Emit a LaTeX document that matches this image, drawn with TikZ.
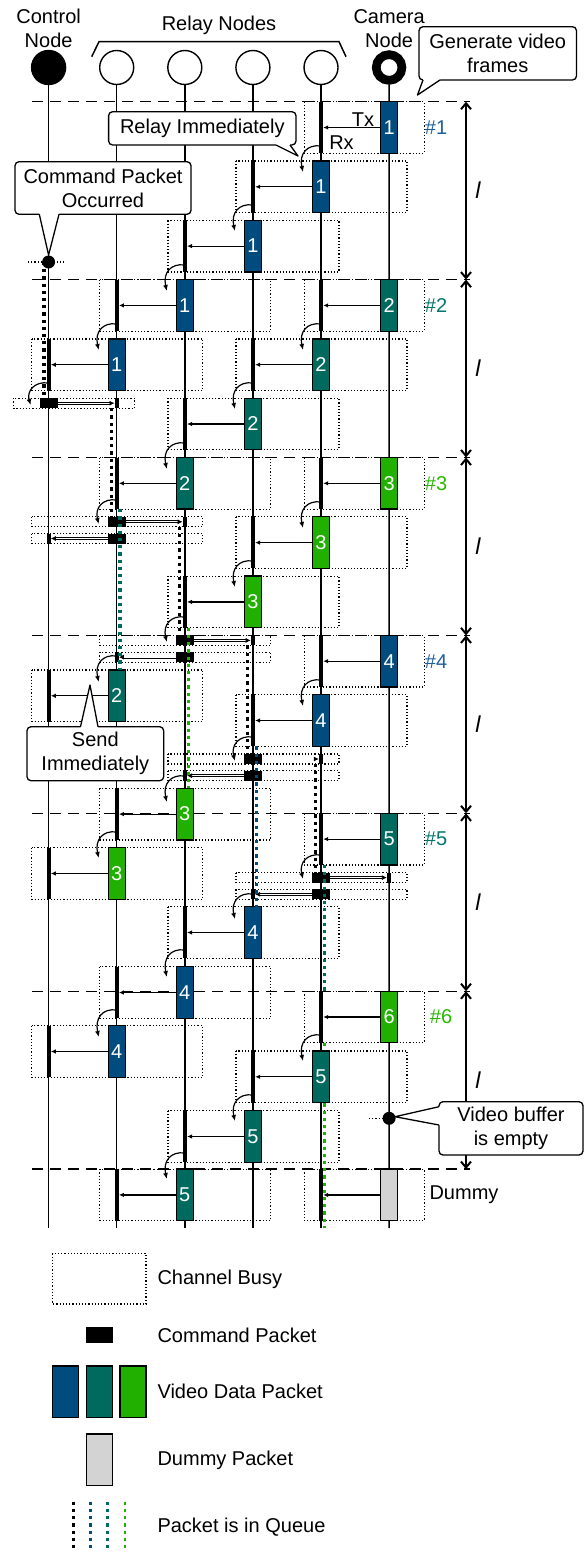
\documentclass[tikz,border=0pt]{standalone}
\usepackage{fontspec}
\setmainfont{Liberation Sans}
\usetikzlibrary{arrows.meta}
\definecolor{pblue}{RGB}{0,76,127}
\definecolor{pteal}{RGB}{0,106,95}
\definecolor{pgreen}{RGB}{33,176,0}
\definecolor{pgray}{RGB}{211,211,211}
\definecolor{lblue}{RGB}{30,96,156}
\definecolor{lteal}{RGB}{0,120,108}
\definecolor{lgreen}{RGB}{40,184,0}
\newcounter{tx}
\newcommand\data[5]{%
 \stepcounter{tx}%
 \pgfmathsetmacro\xs{48.6+68.1*#1}%
 \pgfmathsetmacro\xr{48.6+68.1*#2}%
 \pgfmathsetmacro\bl{(#1==0)?(\xs-35):(\xs-85)}%
 \pgfmathsetmacro\br{(#1==5)?(\xs+35):(\xs+86)}%
 \pgfmathsetmacro\ym{#3+25.8}%
 \draw[busy] (\bl,#3) rectangle (\br,#3+51.6);
 \node[pkt, fill=#4] (p\thetx) at (\xs,\ym) {#5};
 \node[rxbar, minimum height=51.6pt] (b\thetx) at (\xr,\ym) {};
 \draw[darrow] (p\thetx.west) -- (b\thetx.east);
}
\newcommand\cmd[5]{%
 \stepcounter{tx}%
 \pgfmathsetmacro\xs{48.6+68.1*#1}%
 \pgfmathsetmacro\xr{48.6+68.1*#2}%
 \pgfmathsetmacro\bl{(#1==0)?(\xs-35):(\xs-85)}%
 \pgfmathsetmacro\br{(#1==5)?(\xs+35):(\xs+86)}%
 \pgfmathsetmacro\ym{#3+5}%
 \draw[busy] (\bl,#3) rectangle (\br,#3+10);
 \node[cmdpkt] (c\thetx) at (\xs,\ym) {};
 \node[rxbar, minimum height=10pt] (r\thetx) at (\xr,\ym) {};
 \draw[cmdarrow] (c\thetx.#4) -- (r\thetx.#5);
}
\newcommand\relay[3]{%
 \pgfmathsetmacro\xx{48.6+68.1*#1}%
 \draw[relayarr] (\xx,#2) .. controls (\xx-14,#2-2) and (\xx-22,#2+8) .. (\xx-18,#3);
}
\newcommand\queue[4]{%
 \pgfmathsetmacro\xx{48.6+68.1*#1+#2}%
 \draw[queueline, #3] (\xx,#4);
}
\begin{document}
\begin{tikzpicture}[x=1pt,y=-1pt,
 every node/.style={font=\fontsize{20}{24}\selectfont},
 lifeline/.style={line width=1.4pt},
 busy/.style={dotted, line width=1.2pt},
 pkt/.style={draw=black, line width=1.3pt, minimum width=17pt, minimum height=51.6pt, inner sep=0pt, text=white},
 cmdpkt/.style={fill=black, minimum width=18pt, minimum height=10pt, inner sep=0pt},
 rxbar/.style={fill=black, minimum width=4pt, inner sep=0pt},
 darrow/.style={line width=1.2pt, -{Latex[length=5pt,width=4.5pt]}},
 cmdarrow/.style={double=white, double distance=1.3pt, line width=0.75pt, -{Latex[length=5pt,width=5pt]}},
 relayarr/.style={line width=1.2pt, -{Latex[length=6pt,width=5pt]}},
 queueline/.style={line width=3.2pt, dash pattern=on 3.2pt off 4pt},
 cbox/.style={draw, fill=white, rounded corners=4pt, line width=1.3pt, inner sep=0pt, align=center},
 cline/.style={line width=1.3pt, line join=round},
 period/.style={dash pattern=on 11pt off 7pt, line width=1.3pt},
 iv/.style={line width=2pt, {Straight Barb[length=6pt,width=10pt]}-{Straight Barb[length=6pt,width=10pt]}},
]
\useasboundingbox (0,0) rectangle (584,1552);

% header
\node[align=center] (tc) at (48.6,28) {Control\\Node};
\node (tr) at (219,25) {Relay Nodes};
\node[align=center] (tcam) at (389.1,28.3) {Camera\\Node};
\draw[line width=1.5pt] (91.7,56.7) -- (99,41.7) -- (339,41.7) -- (346,56.7);

% nodes
\node[circle, draw, fill=black, line width=1.4pt, minimum size=34pt, inner sep=0pt] (n0) at (48.6,67.5) {};
\foreach \i in {1,...,4}
  \node[circle, draw, line width=1.4pt, minimum size=34pt, inner sep=0pt] (n\i) at ({48.6+68.1*\i},67.5) {};
\node[circle, draw, line width=8.7pt, minimum size=25.7pt, inner sep=0pt] (n5) at (389.1,67.5) {};
\foreach \i in {0,...,5} {
  \coordinate (e\i) at ({48.6+68.1*\i},1228);
  \draw[lifeline] (n\i) -- (e\i);
}

% period lines and interval arrows
\foreach \k in {0,...,6}
  \draw[period] (32,{101.7+177.9*\k}) -- (470,{101.7+177.9*\k});
\foreach \k in {0,...,5} {
  \draw[iv] (466,{101.7+177.9*\k}) -- (466,{101.7+177.9*(\k+1)});
  \node[font=\fontsize{23}{24}\selectfont\itshape] (l\k) at (478,{190.6+177.9*\k}) {l};
}

% transmissions
\data{5}{4}{101.7}{pblue}{1}
\data{4}{3}{161.0}{pblue}{1}
\data{3}{2}{220.3}{pblue}{1}
\data{2}{1}{279.6}{pblue}{1}
\data{5}{4}{279.6}{pteal}{2}
\data{1}{0}{338.9}{pblue}{1}
\data{4}{3}{338.9}{pteal}{2}
\data{3}{2}{398.2}{pteal}{2}
\data{2}{1}{457.5}{pteal}{2}
\data{5}{4}{457.5}{pgreen}{3}
\data{4}{3}{516.8}{pgreen}{3}
\data{3}{2}{576.1}{pgreen}{3}
\data{5}{4}{635.4}{pblue}{4}
\data{1}{0}{670}{pteal}{2}
\data{4}{3}{694.7}{pblue}{4}
\data{2}{1}{788.3}{pgreen}{3}
\data{5}{4}{813.3}{pteal}{5}
\data{1}{0}{847.7}{pgreen}{3}
\data{3}{2}{906.7}{pblue}{4}
\data{2}{1}{966.7}{pblue}{4}
\data{5}{4}{991.2}{pgreen}{6}
\data{1}{0}{1025.7}{pblue}{4}
\data{4}{3}{1051}{pteal}{5}
\data{3}{2}{1110.7}{pteal}{5}
\data{2}{1}{1169.1}{pteal}{5}
\data{5}{4}{1169.1}{pgray}{}

% command rows
\cmd{0}{1}{398.2}{east}{west}
\cmd{1}{2}{516.8}{east}{west}
\cmd{1}{0}{533.5}{west}{east}
\cmd{2}{3}{635.4}{east}{west}
\cmd{2}{1}{652.1}{west}{east}
\cmd{3}{4}{754}{east}{west}
\cmd{3}{2}{770.7}{west}{east}
\cmd{4}{5}{872.6}{east}{west}
\cmd{4}{3}{889.3}{west}{east}

% queues
\queue{0}{-4.6}{black}{262) -- (\xx,398.2}
\queue{1}{-5.3}{black}{408.2) -- (\xx,516.8}
\queue{2}{-5.3}{black}{526.8) -- (\xx,635.4}
\queue{3}{-5.3}{black}{645.4) -- (\xx,754}
\queue{4}{-5.3}{black}{764) -- (\xx,872.6}
\queue{1}{3.3}{pteal}{509.1) -- (\xx,670}
\queue{2}{3.8}{pgreen}{627.7) -- (\xx,788.3}
\queue{3}{3.3}{pblue}{746.3) -- (\xx,906.7}
\queue{4}{3.5}{pteal}{864.9) -- (\xx,991.2}
\queue{4}{3.5}{pgreen}{1042.8) -- (\xx,1050}
\queue{4}{3.5}{pgreen}{1103.4) -- (\xx,1228}

% relay arrows
\relay{4}{146}{172}
\relay{3}{205}{231}
\relay{2}{265}{291}
\relay{1}{324}{350}
\relay{4}{324}{350}
\relay{3}{383}{409}
\relay{0}{383}{405}
\relay{2}{443}{469}
\relay{4}{502}{528}
\relay{1}{500}{524}
\relay{3}{561}{587}
\relay{2}{617}{642}
\relay{4}{680}{706}
\relay{1}{656}{682}
\relay{3}{737}{761}
\relay{2}{776}{802}
\relay{1}{832}{858}
\relay{4}{855}{879}
\relay{3}{894}{919}
\relay{2}{950}{977}
\relay{1}{1010}{1037}
\relay{4}{1035}{1061}
\relay{3}{1095}{1121}
\relay{2}{1153}{1179}

% labels
\node (tx) at (363,120) {Tx};
\node (rx) at (341.5,143) {Rx};
\node[text=lblue] (h1) at (436,127.5) {\#1};
\node[text=lteal] (h2) at (436,305.4) {\#2};
\node[text=lgreen] (h3) at (436,483.3) {\#3};
\node[text=lblue] (h4) at (436,661.2) {\#4};
\node[text=lteal] (h5) at (436,839.1) {\#5};
\node[text=lgreen] (h6) at (441,1017) {\#6};
\node[anchor=west] (dm) at (426,1195) {Dummy};

% event dots
\draw[dotted, line width=1.2pt] (28,262) -- (64,262);
\fill (48.6,262) circle (6.5);
\draw[dotted, line width=1.2pt] (369,1118.3) -- (382,1118.3);
\fill (389.1,1118.3) circle (6.5);

% callouts
\node[cbox, minimum width=157.5pt, minimum height=53.3pt] (gvf) at (497.75,53.35) {Generate video\\frames};
\fill[white] (423,78.5) -- (440,78.5) -- (440,80) -- (417.5,95) -- (423,80) -- cycle;
\draw[cline] (423,80) -- (417.5,95) -- (440,80);

\node[cbox, minimum width=187.4pt, minimum height=33.3pt] (ri) at (202.3,128.35) {Relay Immediately};
\fill[white] (276,143.5) -- (290,143.5) -- (290,145) -- (298,156) -- (276,145) -- cycle;
\draw[cline] (276,145) -- (298,156) -- (290,145);

\node[cbox, minimum width=176pt, minimum height=52.6pt] (cpo) at (103,188) {Command Packet\\Occurred};
\fill[white] (39.3,212.8) -- (59,212.8) -- (59,214.3) -- (48.6,255) -- (39.3,214.3) -- cycle;
\draw[cline] (39.3,214.3) -- (48.6,255) -- (59,214.3);

\node[cbox, minimum width=136.7pt, minimum height=54pt] (si) at (95.35,753.7) {Send\\Immediately};
\fill[white] (80.5,728.2) -- (98,728.2) -- (98,726.7) -- (90,685) -- (80.5,726.7) -- cycle;
\draw[cline] (80.5,726.7) -- (90,685) -- (98,726.7);

\node[cbox, minimum width=144pt, minimum height=53.3pt] (vbe) at (511,1128.35) {Video buffer\\is empty};
\fill[white] (440.5,1106.7) -- (440.5,1125) -- (439,1125) -- (395,1116.7) -- (439,1106.7) -- cycle;
\draw[cline] (439,1106.7) -- (395,1116.7) -- (439,1125);

% legend
\draw[busy] (52.7,1253.3) rectangle (146,1304);
\node[anchor=west] (lg1) at (154,1279) {Channel Busy};
\node[fill=black, minimum width=26.7pt, minimum height=15.4pt, inner sep=0pt] (lgc) at (99.35,1335) {};
\node[anchor=west] (lg2) at (154,1335) {Command Packet};
\node[pkt, fill=pblue, minimum width=26pt] (lgv1) at (65.3,1391.8) {};
\node[pkt, fill=pteal, minimum width=26pt] (lgv2) at (99.7,1391.8) {};
\node[pkt, fill=pgreen, minimum width=26pt] (lgv3) at (133,1391.8) {};
\node[anchor=west] (lg3) at (154,1391.7) {Video Data Packet};
\node[pkt, fill=pgray, minimum width=26pt] (lgd) at (99.7,1459.8) {};
\node[anchor=west] (lg4) at (154,1460) {Dummy Packet};
\draw[queueline, line width=2.8pt, black] (73.3,1501.7) -- (73.3,1552);
\draw[queueline, line width=2.8pt, pblue] (90.7,1501.7) -- (90.7,1552);
\draw[queueline, line width=2.8pt, pteal] (107.7,1501.7) -- (107.7,1552);
\draw[queueline, line width=2.8pt, pgreen] (125,1501.7) -- (125,1552);
\node[anchor=west] (lg5) at (154,1527.3) {Packet is in Queue};
\end{tikzpicture}
\end{document}
